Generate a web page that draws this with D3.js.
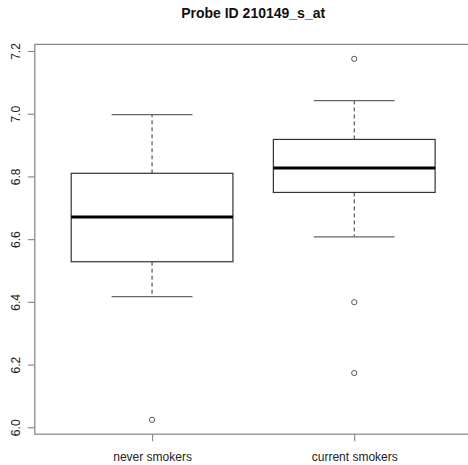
<!DOCTYPE html>
<html>
<head>
<meta charset="utf-8">
<script src="https://cdn.jsdelivr.net/npm/d3@7"></script>
<style>
  html, body { margin: 0; padding: 0; background: #fff; }
  svg { display: block; font-family: "Liberation Sans", Arial, sans-serif; }
</style>
</head>
<body>
<svg id="chart" width="468" height="465"></svg>
<script>
// ---- data ----
const title = "Probe ID 210149_s_at";
const categories = ["never smokers", "current smokers"];
const whiskerLow  = [6.417, 6.607];
const q1          = [6.528, 6.749];
const median      = [6.671, 6.827];
const q3          = [6.810, 6.918];
const whiskerHigh = [6.997, 7.042];
const outliers    = [[6.024], [7.175, 6.399, 6.173]];
const yTicks      = [6.0, 6.2, 6.4, 6.6, 6.8, 7.0, 7.2];

(function () {
// ---- layout ----
const svg = d3.select("#chart");
const pLeft = 34.8, pRight = 471.5, pTop = 44.4, pBottom = 434.2;

// R-style: positions 1..n, xlim = [0.5, n+0.5] extended 4%
const n = categories.length;
const x = d3.scaleLinear()
  .domain([0.5 - 0.04 * n, n + 0.5 + 0.04 * n])
  .range([pLeft, pRight]);

const allVals = whiskerLow.concat(whiskerHigh, outliers.flat());
const yMin = d3.min(allVals), yMax = d3.max(allVals);
const pad = (yMax - yMin) * 0.04;
const y = d3.scaleLinear().domain([yMin - pad, yMax + pad]).range([pBottom, pTop]);

const axisCol = "#8c8c8c";
const boxCol = "#333";

// plot frame
svg.append("rect")
  .attr("x", pLeft).attr("y", pTop)
  .attr("width", pRight - pLeft).attr("height", pBottom - pTop)
  .attr("fill", "none").attr("stroke", axisCol).attr("stroke-width", 1.3);

// title
svg.append("text")
  .attr("x", (pLeft + pRight) / 2).attr("y", 18)
  .attr("text-anchor", "middle")
  .attr("font-size", 14).attr("font-weight", "bold").attr("fill", "#111")
  .text(title);

// y axis
const yAxis = d3.axisLeft(y).tickValues(yTicks).tickFormat(d3.format(".1f")).tickSize(7).tickPadding(0);
const gy = svg.append("g").attr("transform", `translate(${pLeft},0)`).call(yAxis);
gy.select(".domain").remove();
gy.selectAll(".tick line").attr("stroke", axisCol).attr("stroke-width", 1.2);
gy.selectAll(".tick text")
  .attr("font-size", 12).attr("fill", "#222")
  .attr("x", null).attr("dy", null)
  .attr("text-anchor", "middle")
  .attr("transform", "translate(-19,0) rotate(-90)")
  .attr("y", 4);

// x axis
const xAxis = d3.axisBottom(x).tickValues(d3.range(1, n + 1)).tickFormat(i => categories[i - 1]).tickSize(7).tickPadding(0);
const gx = svg.append("g").attr("transform", `translate(0,${pBottom})`).call(xAxis);
gx.select(".domain").remove();
gx.selectAll(".tick line").attr("stroke", axisCol).attr("stroke-width", 1.2);
gx.selectAll(".tick text").attr("font-size", 12).attr("fill", "#222").attr("y", 18).attr("dy", "0.71em");

// boxes
const boxHalf = 0.4, capHalf = 0.2;
categories.forEach((c, i) => {
  const cx = x(i + 1);
  const g = svg.append("g");
  g.append("line").attr("x1", cx).attr("x2", cx).attr("y1", y(q3[i])).attr("y2", y(whiskerHigh[i]))
    .attr("stroke", boxCol).attr("stroke-width", 1).attr("stroke-dasharray", "4,3");
  g.append("line").attr("x1", cx).attr("x2", cx).attr("y1", y(q1[i])).attr("y2", y(whiskerLow[i]))
    .attr("stroke", boxCol).attr("stroke-width", 1).attr("stroke-dasharray", "4,3");
  [whiskerHigh[i], whiskerLow[i]].forEach(v => {
    g.append("line").attr("x1", x(i + 1 - capHalf)).attr("x2", x(i + 1 + capHalf))
      .attr("y1", y(v)).attr("y2", y(v)).attr("stroke", "#666").attr("stroke-width", 1.2);
  });
  g.append("rect")
    .attr("x", x(i + 1 - boxHalf)).attr("y", y(q3[i]))
    .attr("width", x(i + 1 + boxHalf) - x(i + 1 - boxHalf))
    .attr("height", y(q1[i]) - y(q3[i]))
    .attr("fill", "none").attr("stroke", boxCol).attr("stroke-width", 1.2);
  g.append("line").attr("x1", x(i + 1 - boxHalf)).attr("x2", x(i + 1 + boxHalf))
    .attr("y1", y(median[i])).attr("y2", y(median[i]))
    .attr("stroke", "#000").attr("stroke-width", 3);
  g.selectAll("circle").data(outliers[i]).join("circle")
    .attr("cx", cx).attr("cy", d => y(d)).attr("r", 2.6)
    .attr("fill", "none").attr("stroke", "#555").attr("stroke-width", 1);
});
})();
</script>
</body>
</html>
